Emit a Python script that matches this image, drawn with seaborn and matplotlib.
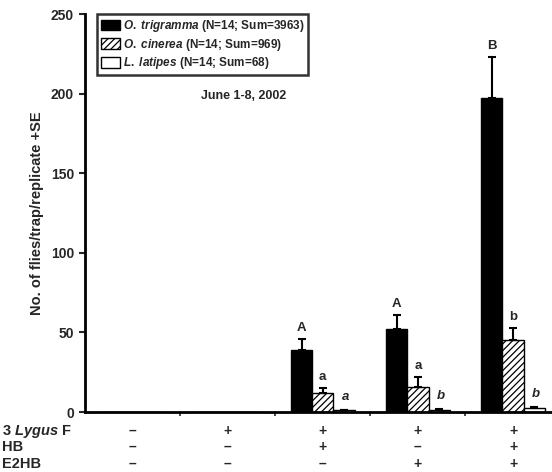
import numpy as np
import pandas as pd
import matplotlib
matplotlib.use("Agg")
import matplotlib.pyplot as plt
import matplotlib.transforms as mtransforms
from matplotlib.patches import Patch
from matplotlib.container import BarContainer
import seaborn as sns

# ---- data ----
groups = ["G1", "G2", "G3", "G4", "G5"]
species = ["O. trigramma", "O. cinerea", "L. latipes"]
legend_suffix = ["(N=14; Sum=3963)", "(N=14; Sum=969)", "(N=14; Sum=68)"]
trigramma_mean = [0, 0, 39, 52, 197]
trigramma_se = [0, 0, 7, 9, 26]
cinerea_mean = [0, 0, 12, 16, 45]
cinerea_se = [0, 0, 3, 6, 8]
latipes_mean = [0, 0, 1.0, 1.5, 2.5]
latipes_se = [0, 0, 0.4, 0.6, 0.8]
trigramma_letters = ["", "", "A", "A", "B"]
cinerea_letters = ["", "", "a", "a", "b"]
latipes_letters = ["", "", "a", "b", "b"]
row_labels = ["3 $\\mathit{Lygus}$ F", "HB", "E2HB"]
lygus_signs = ["–", "+", "+", "+", "+"]
hb_signs = ["–", "–", "+", "–", "+"]
e2hb_signs = ["–", "–", "–", "+", "+"]
title_text = "June 1-8, 2002"
ylabel_text = "No. of flies/trap/replicate +SE"

sns.set_theme(style="ticks")
plt.rcParams["font.family"] = ["Liberation Sans", "DejaVu Sans"]
plt.rcParams["font.weight"] = "bold"
plt.rcParams["mathtext.fontset"] = "custom"
plt.rcParams["mathtext.rm"] = "Liberation Sans:bold"
plt.rcParams["mathtext.it"] = "Liberation Sans:italic:bold"
plt.rcParams["mathtext.bf"] = "Liberation Sans:bold"
plt.rcParams["hatch.linewidth"] = 0.9

means = [trigramma_mean, cinerea_mean, latipes_mean]
ses = [trigramma_se, cinerea_se, latipes_se]
letters = [trigramma_letters, cinerea_letters, latipes_letters]

df = pd.DataFrame({
    "group": np.repeat([groups], 3, axis=0).ravel(),
    "species": np.repeat(species, len(groups)),
    "value": np.concatenate(means),
})

fig = plt.figure(figsize=(5.52, 4.72), dpi=100)
ax = fig.add_axes([85 / 552, (472 - 412) / 472, 467 / 552, 398 / 472])

sns.barplot(data=df, x="group", y="value", hue="species", hue_order=species,
            order=groups, palette=["black", "white", "white"], edgecolor="black",
            linewidth=1.0, width=0.67, gap=0, legend=False, ax=ax)

bar_containers = [c for c in ax.containers if isinstance(c, BarContainer)]
hatches = [None, "/////", None]
for ci, cont in enumerate(bar_containers):
    for gi, p in enumerate(cont.patches):
        if hatches[ci]:
            p.set_hatch(hatches[ci])
        xc = p.get_x() + p.get_width() / 2
        m = means[ci][gi]
        s = ses[ci][gi]
        if m > 0:
            ax.errorbar([xc], [m], yerr=[[0], [s]], fmt="none", ecolor="black",
                        elinewidth=1.5, capsize=3, capthick=1.5, zorder=3)
        if letters[ci][gi]:
            style = "italic" if ci == 2 else "normal"
            dy = 3 if ci < 2 else 4
            ax.text(xc + (0.02 if ci == 2 else 0), m + s + dy, letters[ci][gi],
                    ha="center", va="bottom", fontsize=9.5, fontweight="bold",
                    fontstyle=style)

ax.set_ylim(0, 250)
ax.set_xlim(-0.5, 4.41)
ax.set_yticks([0, 50, 100, 150, 200, 250])
ax.set_yticklabels(["0", "50", "100", "150", "200", "250"], fontsize=10, fontweight="bold")
ax.set_xticks([k + 0.5 for k in range(4)])
ax.set_xticklabels([])
ax.tick_params(axis="y", direction="out", length=4, width=1.5, pad=4)
ax.tick_params(axis="x", direction="out", length=3, width=1.2)
ax.set_xlabel("")
ax.set_ylabel(ylabel_text, fontsize=10.5, fontweight="bold", labelpad=5)
for sp in ["top", "right"]:
    ax.spines[sp].set_visible(False)
for sp in ["left", "bottom"]:
    ax.spines[sp].set_linewidth(2)
    ax.spines[sp].set_color("black")

ax.text(0.34, 0.795, title_text, transform=ax.transAxes, ha="center",
        va="center", fontsize=9, fontweight="bold")

handles = [Patch(facecolor="black", edgecolor="black"),
           Patch(facecolor="white", edgecolor="black", hatch="/////"),
           Patch(facecolor="white", edgecolor="black")]
labels = ["%s %s" % (" ".join("$\\mathit{%s}$" % w for w in sp.split(" ")), suf)
          for sp, suf in zip(species, legend_suffix)]
leg = ax.legend(handles, labels, loc="upper left", bbox_to_anchor=(0.026, 1.0),
                frameon=True, fancybox=False, edgecolor="black", fontsize=8.5,
                handlelength=1.6, handleheight=1.0, handletextpad=0.2,
                labelspacing=0.22, borderpad=0.35, borderaxespad=0)
leg.get_frame().set_linewidth(1.8)

# treatment table
trans = mtransforms.blended_transform_factory(ax.transData, fig.transFigure)
row_y = [(472 - 431) / 472, (472 - 447) / 472, (472 - 464) / 472]
for ry, lab, signs in zip(row_y, row_labels, [lygus_signs, hb_signs, e2hb_signs]):
    fig.text(0.004, ry, lab, ha="left", va="center", fontsize=10.5, fontweight="bold")
    for gi, s in enumerate(signs):
        ax.text(gi, ry, s, transform=trans, ha="center", va="center",
                fontsize=10, fontweight="bold", clip_on=False)

fig.savefig("out.png", dpi=100)
